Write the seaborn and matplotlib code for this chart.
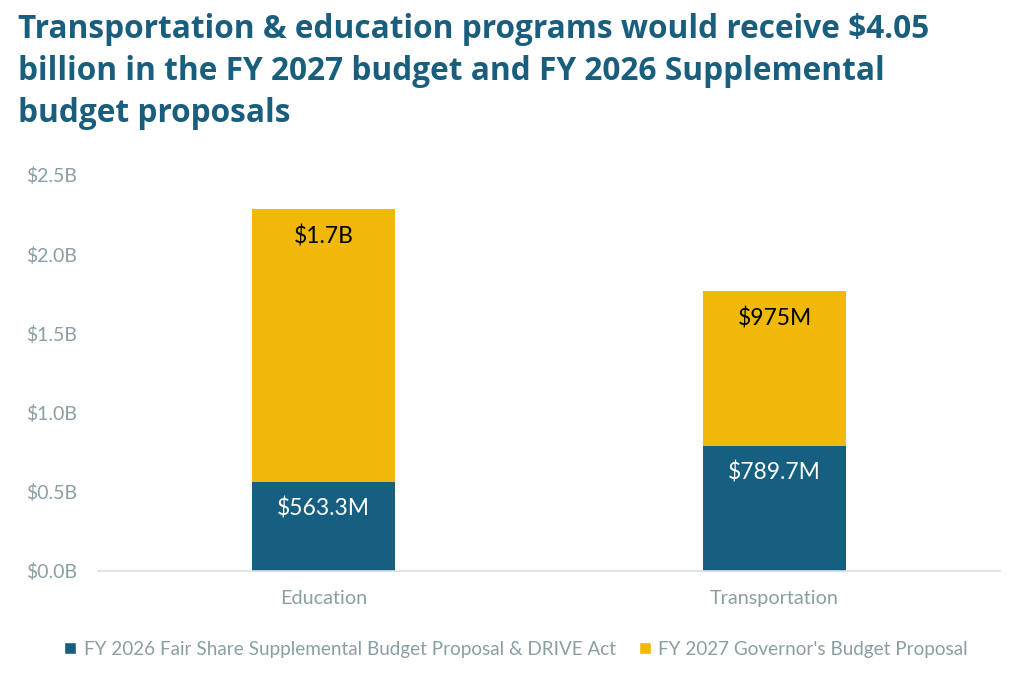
import matplotlib
matplotlib.use("Agg")
import matplotlib.pyplot as plt
import seaborn as sns
import pandas as pd
from matplotlib.patches import Patch

categories = ["Education", "Transportation"]
fy2026_values = [563.3, 789.7]      # $M, FY 2026 Fair Share Supplemental & DRIVE Act
fy2027_values = [1722.0, 975.0]     # $M, FY 2027 Governor's Budget Proposal
fy2026_labels = ["$563.3M", "$789.7M"]
fy2027_labels = ["$1.7B", "$975M"]
y_ticks = [0.0, 0.5, 1.0, 1.5, 2.0, 2.5]
y_tick_labels = ["$0.0B", "$0.5B", "$1.0B", "$1.5B", "$2.0B", "$2.5B"]
series_names = ["FY 2026 Fair Share Supplemental Budget Proposal & DRIVE Act",
                "FY 2027 Governor's Budget Proposal"]

BLUE = "#175F80"
YELLOW = "#F0B808"
TITLE_C = "#1A5E7E"
GRAY = "#8A9FA3"

sns.set_theme(style="white")
plt.rcParams["font.family"] = ["Lato", "DejaVu Sans"]

df = pd.DataFrame({
    "category": categories,
    "base": [v / 1000 for v in fy2026_values],
    "total": [(a + b) / 1000 for a, b in zip(fy2026_values, fy2027_values)],
})

fig = plt.figure(figsize=(10.24, 6.83), dpi=100)
ax = fig.add_axes([98 / 1024, 1 - 571 / 683, (1000 - 98) / 1024, (571 - 175) / 683])

sns.barplot(data=df, x="category", y="total", color=YELLOW, width=0.315,
            saturation=1, ax=ax, linewidth=0)
sns.barplot(data=df, x="category", y="base", color=BLUE, width=0.315,
            saturation=1, ax=ax, linewidth=0)

ax.set_xlim(-0.5, 1.5)
ax.set_ylim(0, 2.5)
ax.set_yticks(y_ticks)
ax.set_yticklabels(y_tick_labels)
ax.set_xlabel("")
ax.set_ylabel("")
ax.tick_params(axis="y", length=0, pad=15, labelsize=14, labelcolor=GRAY)
ax.tick_params(axis="x", length=0, pad=14, labelsize=14.3, labelcolor=GRAY)
for s in ["top", "right", "left"]:
    ax.spines[s].set_visible(False)
ax.spines["bottom"].set_color("#D9E0E1")
ax.spines["bottom"].set_linewidth(1.2)
ax.grid(False)

for i in range(len(categories)):
    ax.annotate(fy2026_labels[i], xy=(i, df["base"][i]), xytext=(0, -19.5),
                textcoords="offset points", ha="center", va="center",
                color="white", fontsize=16.5)
    ax.annotate(fy2027_labels[i], xy=(i, df["total"][i]), xytext=(0, -19.5),
                textcoords="offset points", ha="center", va="center",
                color="black", fontsize=16.5)

fig.text(18 / 1024, 1 - 13 / 683,
         "Transportation & education programs would receive $4.05\n"
         "billion in the FY 2027 budget and FY 2026 Supplemental\n"
         "budget proposals",
         ha="left", va="top", color=TITLE_C, fontsize=22.8, fontweight="bold",
         linespacing=1.36, family=["Open Sans", "DejaVu Sans"])

handles = [Patch(facecolor=BLUE), Patch(facecolor=YELLOW)]
fig.legend(handles, series_names, loc="center", bbox_to_anchor=(516 / 1024, 1 - 649 / 683),
           ncol=2, frameon=False, fontsize=13.6, labelcolor=GRAY,
           handlelength=0.65, handleheight=0.65, handletextpad=0.4, columnspacing=1.2)

fig.savefig("out.png", dpi=100)
